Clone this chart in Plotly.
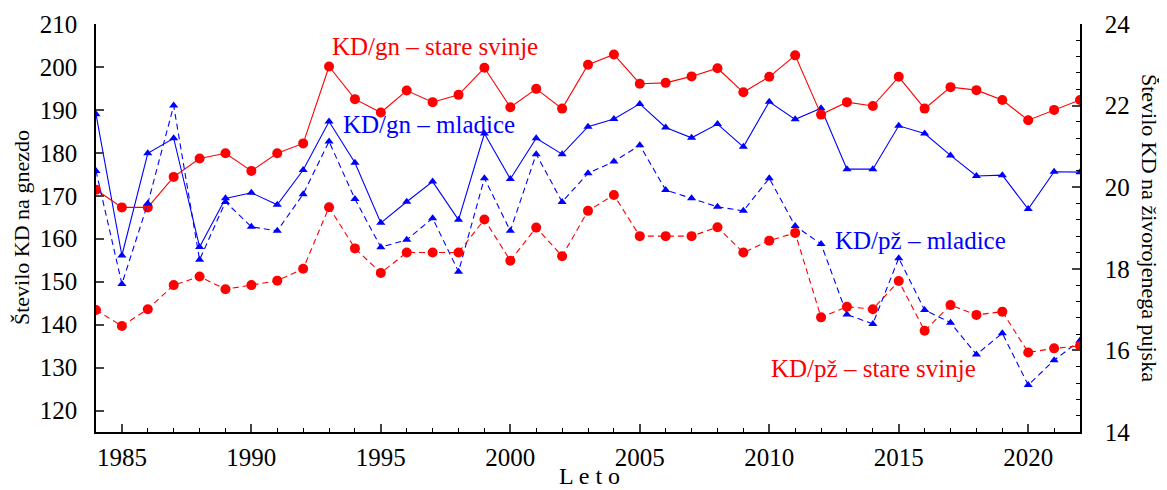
import plotly.graph_objects as go

# Data
years = list(range(1984, 2023))

# KD na gnezdo (levi y)
gn_stare = [171.4, 167.3, 167.3, 174.4, 178.7, 179.9, 175.8, 179.9, 182.2, 200.1,
            192.5, 189.4, 194.5, 191.8, 193.5, 199.8, 190.6, 194.9, 190.3, 200.5,
            202.9, 196.1, 196.3, 197.8, 199.7, 194.1, 197.7, 202.7, 188.9, 191.8,
            190.9, 197.7, 190.3, 195.3, 194.6, 192.3, 187.6, 190.0, 192.3]
gn_mladice = [189.0, 156.1, 179.9, 183.4, 158.1, 169.4, 170.7, 167.9, 176.0, 187.3,
              177.7, 163.7, 168.6, 173.3, 164.4, 184.5, 173.9, 183.4, 179.7, 186.1,
              187.9, 191.4, 185.9, 183.5, 186.7, 181.4, 191.9, 187.8, 190.4, 176.2,
              176.2, 186.3, 184.5, 179.4, 174.6, 174.8, 166.9, 175.6, 175.5]

# KD na zivorojenega pujska (desni y)
pz_stare = [16.99, 16.60, 17.01, 17.60, 17.81, 17.50, 17.60, 17.71, 18.00, 19.51,
            18.50, 17.90, 18.40, 18.40, 18.40, 19.21, 18.20, 19.01, 18.31, 19.42,
            19.81, 18.80, 18.80, 18.80, 19.02, 18.40, 18.69, 18.88, 16.81, 17.07,
            17.01, 17.70, 16.48, 17.11, 16.87, 16.95, 15.95, 16.05, 16.11]
pz_mladice = [20.40, 17.63, 19.60, 22.00, 18.22, 19.64, 19.03, 18.93, 19.83, 21.12,
              19.71, 18.53, 18.71, 19.24, 17.93, 20.22, 18.93, 20.81, 19.64, 20.34,
              20.63, 21.03, 19.93, 19.73, 19.52, 19.42, 20.22, 19.05, 18.61, 16.88,
              16.65, 18.26, 16.99, 16.68, 15.90, 16.42, 15.15, 15.76, 16.24]

RED = "#ff0000"
BLUE = "#0000ff"
FONT = "Liberation Serif"
DASH = "6px,4px"

# the page body has an 8px margin, so the figure is drawn 8px smaller
OFF = 8
W, H = 1167 - OFF, 490 - OFF
L, R, T, B = 96, 1080, 24, 432   # plot area in page pixels

fig = go.Figure()

fig.add_trace(go.Scatter(x=years, y=pz_mladice, yaxis="y2", mode="lines+markers",
                         line=dict(color=BLUE, width=1.1, dash=DASH),
                         marker=dict(symbol="triangle-up", size=8, color=BLUE)))
fig.add_trace(go.Scatter(x=years, y=pz_stare, yaxis="y2", mode="lines+markers",
                         line=dict(color=RED, width=1.1, dash=DASH),
                         marker=dict(symbol="circle", size=10, color=RED)))
fig.add_trace(go.Scatter(x=years, y=gn_mladice, mode="lines+markers",
                         line=dict(color=BLUE, width=1.1),
                         marker=dict(symbol="triangle-up", size=8, color=BLUE)))
fig.add_trace(go.Scatter(x=years, y=gn_stare, mode="lines+markers",
                         line=dict(color=RED, width=1.1),
                         marker=dict(symbol="circle", size=10, color=RED)))

def px(x):
    return (x - L) / (R - L)

def py(y):
    return 1 - (y - T) / (B - T)

labels = [
    ("KD/gn \u2013 stare svinje", 435, 46, RED),
    ("KD/gn \u2013 mladice", 429, 124, BLUE),
    ("KD/p\u017e \u2013 mladice", 920, 240, BLUE),
    ("KD/p\u017e \u2013 stare svinje", 873, 368, RED),
]
annotations = []
for txt, x, y, col in labels:
    annotations.append(dict(text=txt, xref="paper", yref="paper", x=px(x), y=py(y),
                            showarrow=False, xanchor="center", yanchor="middle",
                            font=dict(family=FONT, size=25, color=col)))

# axis titles
annotations += [
    dict(text="\u0160tevilo KD na gnezdo", xref="paper", yref="paper",
         x=px(21), y=py(228), textangle=-90, showarrow=False,
         xanchor="center", yanchor="middle", font=dict(family=FONT, size=22)),
    dict(text="\u0160tevilo KD na \u017eivorojenega pujska", xref="paper", yref="paper",
         x=px(1150), y=py(228), textangle=90, showarrow=False,
         xanchor="center", yanchor="middle", font=dict(family=FONT, size=22)),
    dict(text="L e t o", xref="paper", yref="paper",
         x=px(589), y=py(476), showarrow=False,
         xanchor="center", yanchor="middle", font=dict(family=FONT, size=24)),
]

fig.update_layout(
    width=W, height=H,
    margin=dict(l=L - OFF, r=W - (R - OFF), t=T - OFF, b=H - (B - OFF), autoexpand=False),
    paper_bgcolor="white", plot_bgcolor="white",
    showlegend=False,
    font=dict(family=FONT, size=25, color="black"),
    annotations=annotations,
    xaxis=dict(range=[1984, 2022], dtick=5, tick0=1985, ticks="inside", ticklen=8,
               tickwidth=1.5, showline=True, linecolor="black", linewidth=1.5,
               showgrid=False, zeroline=False, automargin=False, ticklabelstandoff=2,
               minor=dict(dtick=1, ticks="inside", ticklen=4, tickwidth=1.2, tickcolor="black")),
    yaxis=dict(range=[115, 210], dtick=10, tick0=120, ticks="inside", ticklen=8,
               tickwidth=1.5, showline=True, linecolor="black", linewidth=1.5,
               showgrid=False, zeroline=False, automargin=False, ticklabelstandoff=12),
    yaxis2=dict(range=[14, 24], dtick=2, ticks="inside", ticklen=8, tickwidth=1.5,
                overlaying="y", side="right", showline=True, linecolor="black",
                linewidth=1.5, showgrid=False, zeroline=False, automargin=False,
                ticklabelstandoff=18,
                minor=dict(dtick=0.4, ticks="inside", ticklen=4, tickwidth=1.2, tickcolor="black")),
)

fig.write_html("out.html")
